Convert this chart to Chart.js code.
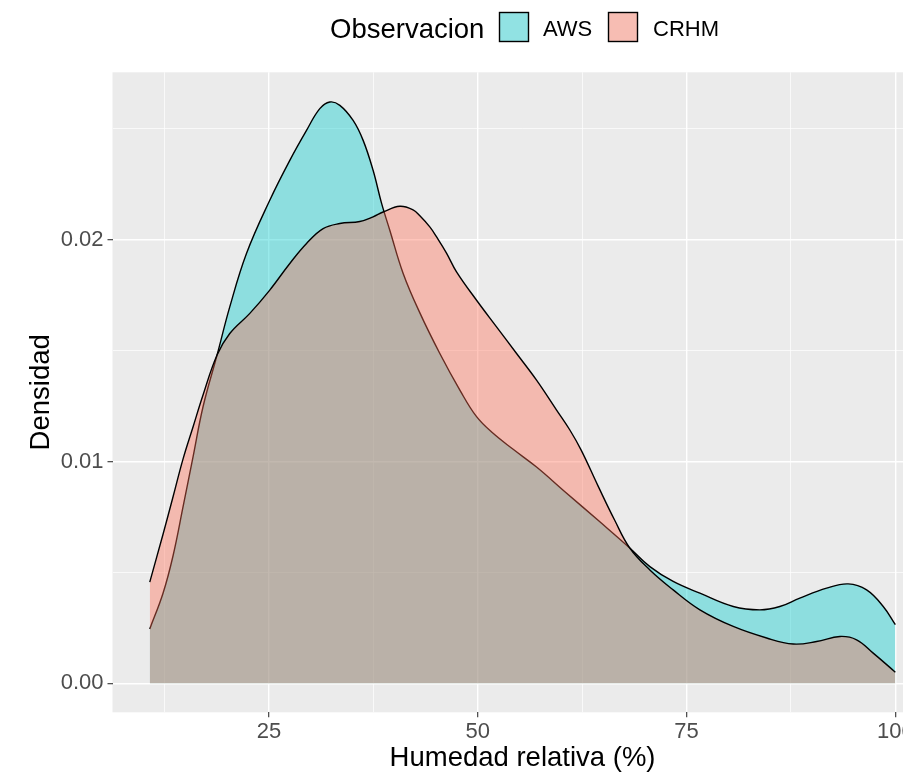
<!DOCTYPE html>
<html>
<head>
<meta charset="utf-8">
<title>Densidad de humedad relativa</title>
<script src="https://cdn.jsdelivr.net/npm/chart.js@4.4.1/dist/chart.umd.min.js"></script>
<style>
  html, body { margin: 0; padding: 0; background: #ffffff; overflow: hidden; }
  #wrap { width: 903px; height: 777px; overflow: hidden; position: relative; }
  canvas { display: block; }
</style>
</head>
<body>
<div id="wrap"><canvas id="chart" width="940" height="777"></canvas></div>
<script>
// Kernel density estimates of relative humidity (%), one curve per source
const awsX = [10.73, 12.32, 13.52, 14.72, 15.92, 17.11, 18.79, 20.31, 22.31, 25.10,
  27.50, 29.50, 31.09, 32.29, 33.49, 35.08, 36.28, 37.47, 38.48, 39.47,
  41.07, 43.07, 45.46, 47.86, 49.86, 51.84, 54.24, 57.04, 60.40, 64.62,
  68.20, 70.61, 73.40, 76.60, 80.59, 83.78, 86.17, 88.56, 91.77, 94.36,
  96.56, 98.55, 100.0];
const awsDensity = [0.00245, 0.00406, 0.00575, 0.00796, 0.01022, 0.01247, 0.01480, 0.01697, 0.01938, 0.02178,
  0.02358, 0.02493, 0.02591, 0.02621, 0.02606, 0.02538, 0.02448, 0.02313, 0.02165, 0.02043,
  0.01848, 0.01670, 0.01487, 0.01322, 0.01202, 0.01127, 0.01055, 0.00975, 0.00865, 0.00728,
  0.00610, 0.00526, 0.00459, 0.00406, 0.00346, 0.00331, 0.00346, 0.00384, 0.00429, 0.00448,
  0.00421, 0.00346, 0.00264];

const crhmX = [10.73, 12.32, 13.52, 14.72, 15.92, 17.11, 18.79, 20.31, 22.71, 25.10,
  27.50, 29.50, 31.49, 33.49, 35.88, 37.47, 38.67, 40.67, 42.26, 43.07,
  44.26, 45.07, 46.26, 47.46, 49.86, 52.25, 54.65, 57.04, 59.44, 61.03,
  62.40, 64.40, 66.40, 68.20, 70.61, 73.40, 76.60, 80.59, 84.59, 87.77,
  90.57, 93.37, 95.36, 97.35, 100.0];
const crhmDensity = [0.00456, 0.00672, 0.00841, 0.01012, 0.01157, 0.01300, 0.01480, 0.01577, 0.01668, 0.01773,
  0.01893, 0.01983, 0.02050, 0.02073, 0.02082, 0.02103, 0.02125, 0.02151, 0.02135, 0.02108,
  0.02058, 0.02013, 0.01940, 0.01855, 0.01727, 0.01607, 0.01487, 0.01367, 0.01232, 0.01142,
  0.01050, 0.00890, 0.00735, 0.00610, 0.00511, 0.00421, 0.00331, 0.00256, 0.00204, 0.00177,
  0.00188, 0.00211, 0.00196, 0.00136, 0.00050];

const seriesNames = ['AWS', 'CRHM'];
const legendTitle = 'Observacion';
const xTitle = 'Humedad relativa (%)';
const yTitle = 'Densidad';

const xMajorTicks = [25, 50, 75, 100];
const xMinorTicks = [12.5, 37.5, 62.5, 87.5];
const yMajorTicks = [0, 0.01, 0.02];
const yMinorTicks = [0.005, 0.015, 0.025];

// translucent fills: cyan for AWS, salmon for CRHM
const awsColor = '#00CACD';
const crhmColor = '#FF6E55';
const fillAlpha = 0.4;

const FONT = "'Liberation Sans', Arial, Helvetica, sans-serif";
Chart.defaults.font.family = FONT;

function rgba(hex, a) {
  const n = parseInt(hex.slice(1), 16);
  return `rgba(${(n >> 16) & 255},${(n >> 8) & 255},${n & 255},${a})`;
}
function toPoints(xs, ys) { return xs.map((x, i) => ({ x: x, y: ys[i] })); }
const near = (arr, v) => arr.some(t => Math.abs(t - v) < 1e-9);

// grey panel behind the grid
const panelBg = {
  id: 'panelBg',
  beforeDraw(chart) {
    const { ctx, chartArea: a } = chart;
    ctx.save();
    ctx.fillStyle = '#EBEBEB';
    ctx.fillRect(a.left, a.top, a.right - a.left, a.bottom - a.top);
    ctx.restore();
  }
};

// horizontal legend: title on the left, then a keyed entry per series
const sideLegend = {
  id: 'sideLegend',
  afterDraw(chart) {
    const ctx = chart.ctx;
    ctx.save();
    ctx.fillStyle = '#000';
    ctx.textBaseline = 'alphabetic';
    ctx.textAlign = 'left';
    ctx.font = `27.5px ${FONT}`;
    ctx.fillText(legendTitle, 330, 38);
    const keys = [
      { x: 499.5, color: awsColor, label: seriesNames[0], tx: 543 },
      { x: 608.5, color: crhmColor, label: seriesNames[1], tx: 653 }
    ];
    ctx.font = `22px ${FONT}`;
    keys.forEach(k => {
      ctx.fillStyle = '#F2F2F2';
      ctx.fillRect(k.x, 12.5, 29, 29);
      ctx.fillStyle = rgba(k.color, fillAlpha);
      ctx.fillRect(k.x, 12.5, 29, 29);
      ctx.strokeStyle = '#000';
      ctx.lineWidth = 1.4;
      ctx.strokeRect(k.x, 12.5, 29, 29);
      ctx.fillStyle = '#000';
      ctx.fillText(k.label, k.tx, 36);
    });
    ctx.restore();
  }
};

const xGrid = [...xMinorTicks, ...xMajorTicks].sort((a, b) => a - b);
const yGrid = [...yMinorTicks, ...yMajorTicks].sort((a, b) => a - b);

const curveStyle = {
  borderColor: '#000000',
  borderWidth: 1.4,
  fill: 'origin',
  pointRadius: 0,
  tension: 0.4
};

new Chart(document.getElementById('chart'), {
  type: 'line',
  data: {
    datasets: [
      Object.assign({}, curveStyle, {
        label: seriesNames[1],
        data: toPoints(crhmX, crhmDensity),
        order: 0,
        backgroundColor: rgba(crhmColor, fillAlpha)
      }),
      Object.assign({}, curveStyle, {
        label: seriesNames[0],
        data: toPoints(awsX, awsDensity),
        order: 1,
        backgroundColor: rgba(awsColor, fillAlpha)
      })
    ]
  },
  options: {
    responsive: false,
    animation: false,
    events: [],
    layout: { padding: { top: 72.3, right: 7.4, left: 0, bottom: 0 } },
    plugins: {
      legend: { display: false },
      tooltip: { enabled: false },
      filler: { propagate: false }
    },
    scales: {
      x: {
        type: 'linear',
        min: 6.27,
        max: 104.46,
        afterBuildTicks: s => { s.ticks = xGrid.map(v => ({ value: v })); },
        afterFit: s => { s.height = 64.7; },
        border: { display: false },
        grid: {
          color: '#FFFFFF',
          lineWidth: c => near(xMajorTicks, c.tick.value) ? 1.4 : 0.7,
          tickColor: c => near(xMajorTicks, c.tick.value) ? '#333333' : 'rgba(0,0,0,0)',
          tickLength: 5,
          tickWidth: 1.1
        },
        ticks: {
          autoSkip: false,
          maxRotation: 0,
          padding: 1,
          color: '#4D4D4D',
          font: { size: 22 },
          callback: v => near(xMajorTicks, v) ? String(v) : ''
        },
        title: {
          display: true,
          text: xTitle,
          color: '#000000',
          font: { size: 27.5 },
          padding: { top: 0, bottom: 2 }
        }
      },
      y: {
        type: 'linear',
        min: -0.00131,
        max: 0.02755,
        afterBuildTicks: s => { s.ticks = yGrid.map(v => ({ value: v })); },
        afterFit: s => { s.width = 112.5; },
        border: { display: false },
        grid: {
          color: '#FFFFFF',
          lineWidth: c => near(yMajorTicks, c.tick.value) ? 1.4 : 0.7,
          tickColor: c => near(yMajorTicks, c.tick.value) ? '#333333' : 'rgba(0,0,0,0)',
          tickLength: 5,
          tickWidth: 1.1
        },
        ticks: {
          autoSkip: false,
          padding: 4,
          color: '#4D4D4D',
          font: { size: 22 },
          callback: v => near(yMajorTicks, v) ? v.toFixed(2) : ''
        },
        title: {
          display: true,
          text: yTitle,
          color: '#000000',
          font: { size: 27.5 },
          padding: { top: 25, bottom: 0 }
        }
      }
    }
  },
  plugins: [panelBg, sideLegend]
});
</script>
</body>
</html>
